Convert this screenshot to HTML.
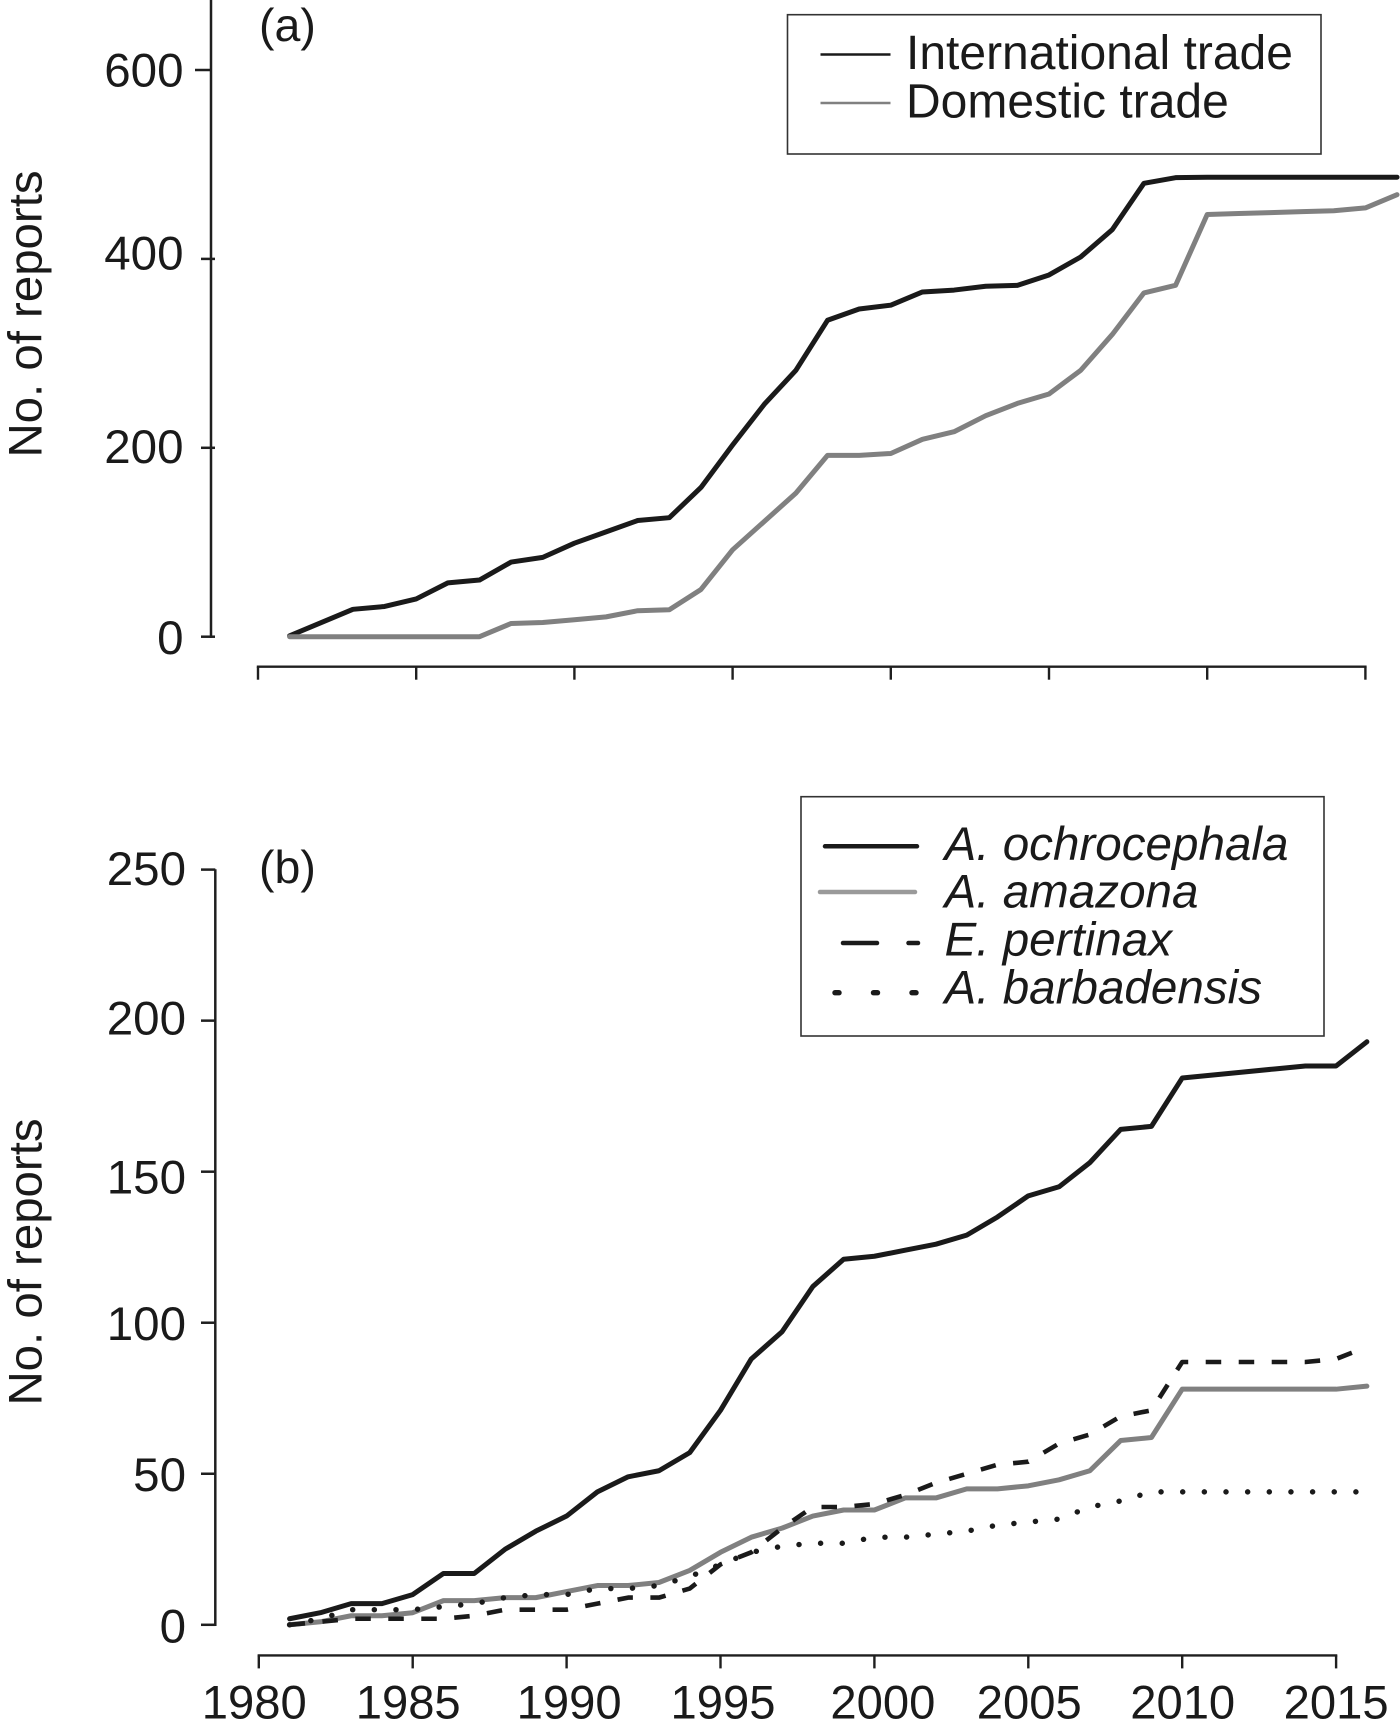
<!DOCTYPE html>
<html lang="en">
<head>
<meta charset="utf-8">
<title>No. of reports by trade type and species</title>
<style>
html,body{margin:0;padding:0;background:#fff;width:1400px;height:1730px;overflow:hidden}
svg{display:block}
text{font-family:"Liberation Sans",sans-serif;fill:#1a1a1a}
.it{font-style:italic}
</style>
</head>
<body>
<svg id="chart" xmlns="http://www.w3.org/2000/svg" width="1400" height="1730" viewBox="0 0 1400 1730">
  <rect x="0" y="0" width="1400" height="1730" fill="#fff"/>
  <g id="panel-a"></g>
  <g id="panel-b"></g>

  <text x="259" y="41" font-size="46.5">(a)</text>
  <text x="259" y="883" font-size="46.5">(b)</text>
  <text transform="translate(41.5,314) rotate(-90)" text-anchor="middle" font-size="47.4">No. of reports</text>
  <text transform="translate(41.5,1262) rotate(-90)" text-anchor="middle" font-size="47.4">No. of reports</text>

  <g>
    <rect x="787.5" y="14.7" width="533.5" height="139.3" fill="#fff" stroke="#333" stroke-width="1.6"/>
    <line x1="820.5" y1="54.5" x2="890.5" y2="54.5" stroke="#1a1a1a" stroke-width="2.4"/>
    <text x="906" y="69" font-size="48">International trade</text>
    <line x1="820.5" y1="103" x2="890.5" y2="103" stroke="#808080" stroke-width="2.4"/>
    <text x="906" y="117.4" font-size="48">Domestic trade</text>
  </g>

  <g>
    <rect x="801" y="796.7" width="523" height="239.3" fill="#fff" stroke="#333" stroke-width="1.6"/>
    <line x1="825" y1="846.3" x2="917" y2="846.3" stroke="#1a1a1a" stroke-width="4.5" stroke-linecap="round"/>
    <text class="it" x="944.5" y="860" font-size="47.6">A. ochrocephala</text>
    <line x1="820" y1="892" x2="915" y2="892" stroke="#9a9a9a" stroke-width="4.5" stroke-linecap="round"/>
    <text class="it" x="944.5" y="907.7" font-size="47.6">A. amazona</text>
    <line x1="843" y1="943" x2="877" y2="943" stroke="#1a1a1a" stroke-width="4.5" stroke-linecap="round"/>
    <line x1="908.5" y1="943" x2="918" y2="943" stroke="#1a1a1a" stroke-width="4.5" stroke-linecap="round"/>
    <text class="it" x="944.5" y="955.7" font-size="47.6">E. pertinax</text>
    <line x1="835" y1="992.7" x2="839" y2="992.7" stroke="#1a1a1a" stroke-width="5.4" stroke-linecap="round"/>
    <line x1="873.5" y1="992.7" x2="877.5" y2="992.7" stroke="#1a1a1a" stroke-width="5.4" stroke-linecap="round"/>
    <line x1="912" y1="992.7" x2="916" y2="992.7" stroke="#1a1a1a" stroke-width="5.4" stroke-linecap="round"/>
    <text class="it" x="944.5" y="1003.3" font-size="47.6">A. barbadensis</text>
  </g>
</svg>
<script>
var firstYear = 1981;
var xTickYears = [1980, 1985, 1990, 1995, 2000, 2005, 2010, 2015];
var yTicksA = [0, 200, 400, 600];
var yTicksB = [0, 50, 100, 150, 200, 250];

var internationalTrade = [1, 15, 29, 32, 40, 57, 60, 79, 84, 99, 111, 123, 126, 158, 203, 246, 282, 335, 347, 351, 365, 367, 371, 372, 383, 402, 431, 480, 486, 486.5, 486.5, 486.5, 486.5, 486.5, 486.5, 486.5];
var domesticTrade = [0, 0, 0, 0, 0, 0, 0, 14, 15, 18, 21, 27.5, 28.5, 50, 92, 122, 152, 192, 192, 194, 209, 217, 234, 247, 257, 282, 320, 364, 372, 447, 448, 449, 450, 451, 454, 468];

var ochrocephala = [2, 4, 7, 7, 10, 17, 17, 25, 31, 36, 44, 49, 51, 57, 71, 88, 97, 112, 121, 122, 124, 126, 129, 135, 142, 145, 153, 164, 165, 181, 182, 183, 184, 185, 185, 193];
var amazona = [0, 1, 3, 3, 4, 8, 8, 9, 9, 11, 13, 13, 14, 18, 24, 29, 32, 36, 38, 38, 42, 42, 45, 45, 46, 48, 51, 61, 62, 78, 78, 78, 78, 78, 78, 79];
var pertinax = [0, 1, 2, 2, 2, 2, 3, 5, 5, 5, 7, 9, 9, 12, 20, 24, 32, 39, 39, 40, 43, 47, 50, 53, 54, 60, 63, 69, 71, 87, 87, 87, 87, 87, 88, 92];
var barbadensis = [0, 2, 5, 5, 5, 6, 7, 9, 10, 10, 12, 12, 13, 16, 20, 24, 26, 27, 27, 29, 29, 30, 31, 33, 34, 35, 39, 41, 44, 44, 44, 44, 44, 44, 44, 44];

var SVGNS = 'http://www.w3.org/2000/svg';

function make(parent, tag, attrs) {
  var el = document.createElementNS(SVGNS, tag);
  for (var k in attrs) { el.setAttribute(k, attrs[k]); }
  parent.appendChild(el);
  return el;
}

function xA(year) { return 258 + (year - 1980) * 31.64; }
function yA(v) { return 636.7 - v * 0.9445; }
function xB(year) { return 258.8 + (year - 1980) * 30.78; }
function yB(v) { return 1624.8 - v * 3.0208; }

/* Small typesetting offsets of the hand-placed labels in the printed figure. */
function yLabelShift(prefix, t) {
  if (prefix === 'panel-a') {
    if (t === 600) return 16.5;
    if (t === 400) return 10.5;
    if (t === 200) return 15;
    return 17.5;
  }
  if (t === 250) return 15.5;
  if (t === 200) return 14;
  if (t === 150) return 22;
  if (t === 50) return 17;
  return 17.5;
}
function xLabelShift(yr) {
  if (yr === 1980 || yr === 1985) return -4.5;
  if (yr === 1990 || yr === 1995) return 2.5;
  if (yr === 2000) return 8.5;
  if (yr === 2005) return 1;
  if (yr === 2010) return 0.5;
  return 0;
}

function pathFor(values, xf, yf) {
  var s = '';
  for (var i = 0; i < values.length; i++) {
    s += (i ? ' L' : 'M') + xf(firstYear + i).toFixed(2) + ' ' + yf(values[i]).toFixed(2);
  }
  return s;
}

function drawSeries(parent, name, values, xf, yf, stroke, width, dash, cap) {
  var attrs = { d: pathFor(values, xf, yf), fill: 'none', stroke: stroke, 'stroke-width': width, 'stroke-linejoin': 'round', 'stroke-linecap': cap || 'round' };
  if (dash) { attrs['stroke-dasharray'] = dash; }
  var p = make(parent, 'path', attrs);
  
  
}

function drawYAxis(parent, prefix, ticks, yf, axisX, topY, labelX, tickEnd) {
  var ax = make(parent, 'line', { x1: axisX, y1: topY, x2: axisX, y2: yf(ticks[0]) + 1.2, stroke: '#1f1f1f', 'stroke-width': 2.5 });
  
  
  ticks.forEach(function (t, i) {
    var isTopA = prefix === 'panel-a' && i === ticks.length - 1;
    var tk = make(parent, 'line', { x1: isTopA ? 195 : 201, y1: yf(t), x2: isTopA ? axisX : tickEnd, y2: yf(t), stroke: '#1f1f1f', 'stroke-width': 2.5 });
    
    
    var lb = make(parent, 'text', { x: labelX, y: yf(t) + yLabelShift(prefix, t), 'text-anchor': 'end', 'font-size': 47.5 });
    lb.textContent = String(t);
    
    
  });
}

function drawXAxis(parent, prefix, xf, axisY, tickLen, withLabels) {
  var ax = make(parent, 'line', { x1: xf(xTickYears[0]) - 1.2, y1: axisY, x2: xf(xTickYears[xTickYears.length - 1]) + 1.2, y2: axisY, stroke: '#1f1f1f', 'stroke-width': 2.4 });
  
  
  xTickYears.forEach(function (yr) {
    var tk = make(parent, 'line', { x1: xf(yr), y1: axisY, x2: xf(yr), y2: axisY + tickLen, stroke: '#1f1f1f', 'stroke-width': 2.4 });
    
    
    if (withLabels) {
      var lb = make(parent, 'text', { x: xf(yr) + xLabelShift(yr), y: 1718.6, 'text-anchor': 'middle', 'font-size': 47.2 });
      lb.textContent = String(yr);
      
      
    }
  });
}

var panelA = document.getElementById('panel-a');
var panelB = document.getElementById('panel-b');

drawYAxis(panelA, 'panel-a', yTicksA, yA, 211, 0, 183.5, 215);
drawXAxis(panelA, 'panel-a', xA, 666.7, 13, false);
drawSeries(panelA, 'international-trade-line', internationalTrade, xA, yA, '#1a1a1a', 5);
drawSeries(panelA, 'domestic-trade-line', domesticTrade, xA, yA, '#808080', 5);

drawYAxis(panelB, 'panel-b', yTicksB, yB, 215.3, 869.3, 186, 215.3);
drawXAxis(panelB, 'panel-b', xB, 1655.4, 13, true);
drawSeries(panelB, 'amazona-line', amazona, xB, yB, '#808080', 5);
drawSeries(panelB, 'ochrocephala-line', ochrocephala, xB, yB, '#1a1a1a', 5);
drawSeries(panelB, 'pertinax-line', pertinax, xB, yB, '#1a1a1a', 4.6, '15.5 17.5', 'butt');
drawSeries(panelB, 'barbadensis-line', barbadensis, xB, yB, '#1a1a1a', 5.4, '0.1 21.55');
</script>
</body>
</html>
